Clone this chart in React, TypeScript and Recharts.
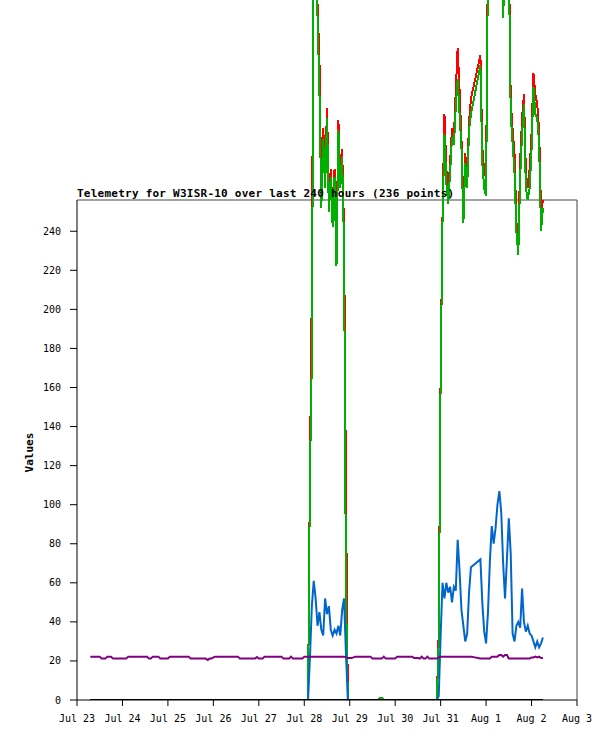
import React from "react";
import { LineChart, Line, XAxis, YAxis, ReferenceLine } from "recharts";

// sample times, hours since Jul 23 00:00 (hours 209-212 missing)
const hours = [
  7, 8, 9, 10, 11, 12, 13, 14, 15, 16, 17, 18, 19, 20, 21, 22, 23, 24, 25, 26,
  27, 28, 29, 30, 31, 32, 33, 34, 35, 36, 37, 38, 39, 40, 41, 42, 43, 44, 45, 46,
  47, 48, 49, 50, 51, 52, 53, 54, 55, 56, 57, 58, 59, 60, 61, 62, 63, 64, 65, 66,
  67, 68, 69, 70, 71, 72, 73, 74, 75, 76, 77, 78, 79, 80, 81, 82, 83, 84, 85, 86,
  87, 88, 89, 90, 91, 92, 93, 94, 95, 96, 97, 98, 99, 100, 101, 102, 103, 104, 105, 106,
  107, 108, 109, 110, 111, 112, 113, 114, 115, 116, 117, 118, 119, 120, 121, 122, 123, 124, 125, 126,
  127, 128, 129, 130, 131, 132, 133, 134, 135, 136, 137, 138, 139, 140, 141, 142, 143, 144, 145, 146,
  147, 148, 149, 150, 151, 152, 153, 154, 155, 156, 157, 158, 159, 160, 161, 162, 163, 164, 165, 166,
  167, 168, 169, 170, 171, 172, 173, 174, 175, 176, 177, 178, 179, 180, 181, 182, 183, 184, 185, 186,
  187, 188, 189, 190, 191, 192, 193, 194, 195, 196, 197, 198, 199, 200, 201, 202, 203, 204, 205, 206,
  207, 208,
  213, 214, 215, 216, 217, 218, 219, 220, 221, 222, 223, 224, 225, 226, 227, 228, 229, 230, 231, 232,
  233, 234, 235, 236, 237, 238, 239, 240, 241, 242, 243, 244, 245, 246,
];

const redVals = [
  // h7-121
  0, 0, 0, 0, 0, 0, 0, 0, 0, 0, 0, 0, 0, 0, 0, 0, 0, 0, 0, 0, 0, 0, 0,
  0, 0, 0, 0, 0, 0, 0, 0, 0, 0, 0, 0, 0, 0, 0, 0, 0, 0, 0, 0, 0, 0, 0,
  0, 0, 0, 0, 0, 0, 0, 0, 0, 0, 0, 0, 0, 0, 0, 0, 0, 0, 0, 0, 0, 0, 0,
  0, 0, 0, 0, 0, 0, 0, 0, 0, 0, 0, 0, 0, 0, 0, 0, 0, 0, 0, 0, 0, 0, 0,
  0, 0, 0, 0, 0, 0, 0, 0, 0, 0, 0, 0, 0, 0, 0, 0, 0, 0, 0, 0, 0, 0, 0,
  // h122-143
  0, 118, 212, 400, 378, 356, 328, 258, 293, 268, 303, 258, 272, 248, 272, 228, 297, 268, 282, 240, 108, 0,
  // h144-190
  0, 0, 0, 0, 0, 0, 0, 0, 0, 0, 0, 0, 0, 0, 0, 0, 1, 1,
  0, 0, 0, 0, 0, 0, 0, 0, 0, 0, 0, 0, 0, 0, 0, 0, 0, 0, 0, 0, 0, 0, 0, 0, 0, 0, 0, 0, 0,
  // h191-208
  35, 168, 248, 300, 272, 260, 275, 293, 288, 312, 334, 312, 287, 250, 280, 266, 296, 308,
  // h213-246
  330, 283, 270, 268, 385, 425, 445, 435, 415, 425, 405, 390, 352, 385, 400, 385, 307,
  292, 280, 245, 232, 276, 298, 310, 270, 262, 272, 290, 321, 310, 305, 292, 250, 256,
];

const greenVals = [
  // h7-121
  0, 0, 0, 0, 0, 0, 0, 0, 0, 0, 0, 0, 0, 0, 0, 0, 0, 0, 0, 0, 0, 0, 0,
  0, 0, 0, 0, 0, 0, 0, 0, 0, 0, 0, 0, 0, 0, 0, 0, 0, 0, 0, 0, 0, 0, 0,
  0, 0, 0, 0, 0, 0, 0, 0, 0, 0, 0, 0, 0, 0, 0, 0, 0, 0, 0, 0, 0, 0, 0,
  0, 0, 0, 0, 0, 0, 0, 0, 0, 0, 0, 0, 0, 0, 0, 0, 0, 0, 0, 0, 0, 0, 0,
  0, 0, 0, 0, 0, 0, 0, 0, 0, 0, 0, 0, 0, 0, 0, 0, 0, 0, 0, 0, 0, 0, 0,
  // h122-143
  0, 115, 175, 395, 370, 350, 312, 252, 287, 262, 298, 250, 268, 242, 268, 222, 292, 262, 278, 232, 56, 0,
  // h144-190
  0, 0, 0, 0, 0, 0, 0, 0, 0, 0, 0, 0, 0, 0, 0, 0, 1, 1,
  0, 0, 0, 0, 0, 0, 0, 0, 0, 0, 0, 0, 0, 0, 0, 0, 0, 0, 0, 0, 0, 0, 0, 0, 0, 0, 0, 0, 0,
  // h191-208
  30, 165, 245, 290, 265, 254, 270, 288, 284, 304, 318, 300, 283, 244, 275, 262, 292, 300,
  // h213-246
  325, 275, 262, 258, 380, 420, 440, 430, 410, 420, 400, 385, 349, 380, 395, 380, 300,
  285, 270, 240, 228, 268, 290, 305, 262, 256, 262, 282, 314, 300, 298, 285, 240, 252,
];

const blueVals = [
  // h7-121
  0, 0, 0, 0, 0, 0, 0, 0, 0, 0, 0, 0, 0, 0, 0, 0, 0, 0, 0, 0, 0, 0, 0,
  0, 0, 0, 0, 0, 0, 0, 0, 0, 0, 0, 0, 0, 0, 0, 0, 0, 0, 0, 0, 0, 0, 0,
  0, 0, 0, 0, 0, 0, 0, 0, 0, 0, 0, 0, 0, 0, 0, 0, 0, 0, 0, 0, 0, 0, 0,
  0, 0, 0, 0, 0, 0, 0, 0, 0, 0, 0, 0, 0, 0, 0, 0, 0, 0, 0, 0, 0, 0, 0,
  0, 0, 0, 0, 0, 0, 0, 0, 0, 0, 0, 0, 0, 0, 0, 0, 0, 0, 0, 0, 0, 0, 0,
  // h122-143
  0, 22, 48, 61, 52, 38, 45, 36, 33, 52, 44, 48, 36, 33, 36, 34, 38, 33, 46, 52, 24, 0,
  // h144-190
  0, 0, 0, 0, 0, 0, 0, 0, 0, 0, 0, 0, 0, 0, 0, 0, 0, 0,
  0, 0, 0, 0, 0, 0, 0, 0, 0, 0, 0, 0, 0, 0, 0, 0, 0, 0, 0, 0, 0, 0, 0, 0, 0, 0, 0, 0, 0,
  // h191-208
  2, 33, 60, 52, 60, 55, 58, 50, 58, 56, 82, 66, 46, 38, 30, 34, 55, 68,
  // h213-246
  72, 50, 35, 29, 45, 71, 89, 80, 88, 100, 107, 96, 70, 52, 72, 93, 75,
  34, 30, 38, 40, 37, 57, 40, 35, 38, 34, 33, 30, 27, 30, 27, 29, 32,
];

const purpleVals = [
  22.2, 22.2, 22.2, 22.2, 22.2, 22.2, 21.2, 21.2, 21.2, 22.2, // h7-16
  22.2, 22.2, 21.2, 21.2, 21.2, 21.2, 21.2, 21.2, 21.2, 21.2, // h17-26
  22.2, 22.2, 22.2, 22.2, 22.2, 22.2, 22.2, 22.2, 22.2, 22.2, // h27-36
  22.2, 21.2, 21.2, 22.2, 22.2, 22.2, 22.2, 21.2, 21.2, 21.2, // h37-46
  21.2, 21.2, 22.2, 22.2, 22.2, 22.2, 22.2, 22.2, 22.2, 22.2, // h47-56
  22.2, 22.2, 22.2, 21.2, 21.2, 21.2, 21.2, 21.2, 21.2, 21.2, // h57-66
  21.2, 21.2, 20.5, 21.2, 21.2, 21.8, 22.2, 22.2, 22.2, 22.2, // h67-76
  22.2, 22.2, 22.2, 22.2, 22.2, 22.2, 22.2, 22.2, 22.2, 21.2, // h77-86
  21.2, 21.2, 21.2, 21.2, 21.2, 21.2, 21.2, 21.2, 22.0, 21.2, // h87-96
  21.2, 21.2, 22.2, 22.2, 22.2, 22.2, 22.2, 22.2, 22.2, 22.2, // h97-106
  22.2, 22.2, 21.2, 21.2, 21.2, 21.2, 22.2, 21.2, 21.2, 21.2, // h107-116
  21.2, 21.2, 21.2, 22.2, 22.2, 22.2, 22.2, 22.2, 22.2, 22.2, // h117-126
  22.2, 22.2, 22.2, 22.2, 22.2, 22.2, 22.2, 22.2, 22.2, 22.2, // h127-136
  22.2, 22.2, 22.2, 22.2, 22.2, 21.8, 21.5, 21.5, 21.5, 21.8, // h137-146
  22.2, 22.2, 22.2, 22.2, 22.2, 22.2, 22.2, 22.2, 22.2, 21.2, // h147-156
  21.2, 21.2, 21.2, 21.2, 21.2, 22.2, 21.2, 21.2, 21.2, 21.2, // h157-166
  21.2, 21.2, 22.2, 22.2, 22.2, 22.2, 22.2, 22.2, 22.2, 22.2, // h167-176
  22.2, 21.5, 21.5, 21.5, 21.2, 22.2, 21.2, 21.2, 22.2, 21.2, // h177-186
  21.2, 21.2, 21.2, 21.2, 21.8, 22.2, 22.2, 22.2, 22.2, 22.2, // h187-196
  22.2, 22.2, 22.2, 22.2, 22.2, 22.2, 22.2, 22.2, 22.2, 22.2, // h197-206
  22.2, 22.2, // h207-208
  21.2, 21.2, 21.2, 21.2, 21.2, 21.2, 22.2, 22.2, 22.2, 22.2, // h213-222
  23.0, 23.0, 22.2, 23.0, 23.0, 21.2, 21.2, 21.2, 21.2, 21.2, // h223-232
  21.2, 21.2, 21.2, 21.2, 21.2, 21.2, 21.2, 21.8, 21.8, 22.2, // h233-242
  21.8, 22.2, 21.5, 21.5, // h243-246
];

const blackVals = [
  0, 0, 0, 0, 0, 0, 0, 0, 0, 0, 0, 0, 0, 0, 0, 0, 0, 0, 0, 0,
  0, 0, 0, 0, 0, 0, 0, 0, 0, 0, 0, 0, 0, 0, 0, 0, 0, 0, 0, 0,
  0, 0, 0, 0, 0, 0, 0, 0, 0, 0, 0, 0, 0, 0, 0, 0, 0, 0, 0, 0,
  0, 0, 0, 0, 0, 0, 0, 0, 0, 0, 0, 0, 0, 0, 0, 0, 0, 0, 0, 0,
  0, 0, 0, 0, 0, 0, 0, 0, 0, 0, 0, 0, 0, 0, 0, 0, 0, 0, 0, 0,
  0, 0, 0, 0, 0, 0, 0, 0, 0, 0, 0, 0, 0, 0, 0, 0, 0, 0, 0, 0,
  0, 0, 0, 0, 0, 0, 0, 0, 0, 0, 0, 0, 0, 0, 0, 0, 0, 0, 0, 0,
  0, 0, 0, 0, 0, 0, 0, 0, 0, 0, 0, 0, 0, 0, 0, 0, 0, 0, 0, 0,
  0, 0, 0, 0, 0, 0, 0, 0, 0, 0, 0, 0, 0, 0, 0, 0, 0, 0, 0, 0,
  0, 0, 0, 0, 0, 0, 0, 0, 0, 0, 0, 0, 0, 0, 0, 0, 0, 0, 0, 0,
  0, 0, 0, 0, 0, 0, 0, 0, 0, 0, 0, 0, 0, 0, 0, 0, 0, 0, 0, 0,
  0, 0, 0, 0, 0, 0, 0, 0, 0, 0, 0, 0, 0, 0, 0, 0,
];

const dayTicks = [0, 24, 48, 72, 96, 120, 144, 168, 192, 216, 240, 264];
const dayLabels = [
  "Jul 23", "Jul 24", "Jul 25", "Jul 26", "Jul 27", "Jul 28",
  "Jul 29", "Jul 30", "Jul 31", "Aug 1", "Aug 2", "Aug 3",
];
const valueTicks = [0, 20, 40, 60, 80, 100, 120, 140, 160, 180, 200, 220, 240];

const TITLE = "Telemetry for W3ISR-10 over last 240 hours (236 points)";
const FRAME_TOP = 256;
const X_END = 264;

const data = hours.map((t, i) => ({
  t,
  red: redVals[i],
  green: greenVals[i],
  blue: blueVals[i],
  purple: purpleVals[i],
  black: blackVals[i],
}));

const MONO = "'DejaVu Sans Mono', 'Liberation Mono', monospace";

const lineCommon = {
  type: "linear" as const,
  strokeWidth: 2,
  dot: false,
  activeDot: false,
  isAnimationActive: false,
};

export default function App() {
  const tickStyle = { fontFamily: MONO, fontSize: 10, fill: "#000" };
  return (
    <div style={{ position: "absolute", left: 0, top: 0, width: 615, height: 741, background: "#fff" }}>
      <LineChart
        width={615}
        height={741}
        data={data}
        margin={{ top: 0, right: 38, bottom: 0, left: 0 }}
      >
        <XAxis
          dataKey="t"
          type="number"
          domain={[0, X_END]}
          ticks={dayTicks}
          interval={0}
          tickFormatter={(v: number) => dayLabels[dayTicks.indexOf(v)] ?? ""}
          height={41}
          tickSize={6}
          tickMargin={9}
          stroke="#000"
          tick={tickStyle}
        />
        <YAxis
          type="number"
          domain={[0, 358.4]}
          allowDataOverflow
          ticks={valueTicks}
          interval={0}
          width={77}
          tickSize={7}
          tickMargin={9}
          axisLine={false}
          stroke="#000"
          tick={tickStyle}
        />
        <ReferenceLine
          segment={[{ x: 0, y: FRAME_TOP }, { x: X_END, y: FRAME_TOP }]}
          stroke="#444"
          strokeWidth={1}
          ifOverflow="visible"
        />
        <ReferenceLine
          segment={[{ x: X_END, y: 0 }, { x: X_END, y: FRAME_TOP }]}
          stroke="#444"
          strokeWidth={1}
          ifOverflow="visible"
        />
        <ReferenceLine
          segment={[{ x: 0, y: 0 }, { x: 0, y: FRAME_TOP }]}
          stroke="#000"
          strokeWidth={1}
          ifOverflow="visible"
        />
        <Line dataKey="red" stroke="#ff0000" {...lineCommon} shapeRendering="crispEdges" />
        <Line dataKey="green" stroke="#00b000" {...lineCommon} shapeRendering="crispEdges" />
        <Line dataKey="blue" stroke="#0066cc" {...lineCommon} />
        <Line dataKey="purple" stroke="#800080" {...lineCommon} />
        <Line dataKey="black" stroke="#000000" {...lineCommon} />
      </LineChart>
      <svg
        width={615}
        height={741}
        style={{ position: "absolute", left: 0, top: 0, pointerEvents: "none" }}
      >
        <text
          x={77}
          y={196.5}
          fontFamily={MONO}
          fontWeight="bold"
          fontSize={11}
          letterSpacing={0.24}
          fill="#000"
        >
          {TITLE}
        </text>
        <text
          transform="translate(32.5,452.5) rotate(-90)"
          textAnchor="middle"
          fontFamily={MONO}
          fontWeight="bold"
          fontSize={11}
          fill="#000"
        >
          Values
        </text>
      </svg>
    </div>
  );
}
